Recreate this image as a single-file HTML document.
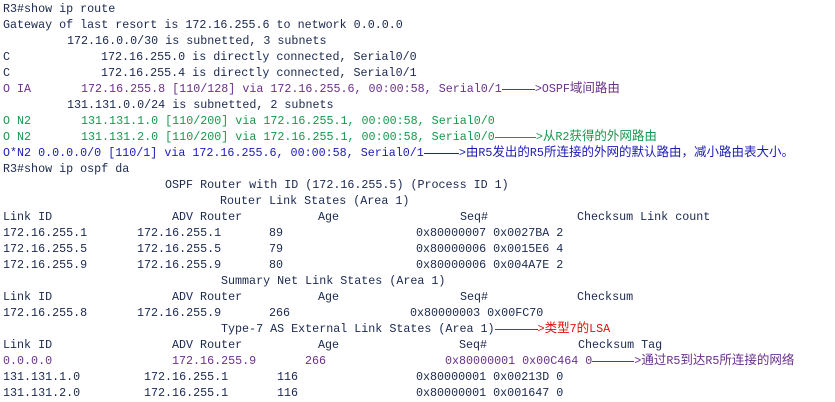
<!DOCTYPE html>
<html><head><meta charset="utf-8"><style>
body{margin:0;width:835px;height:402px;background:#fff;overflow:hidden;position:relative;font-family:"Liberation Mono","Noto Sans CJK SC",monospace;font-size:11.7px;color:#1a2850}
span{position:absolute;white-space:pre;line-height:16px;height:16px}
i{font-style:normal;display:inline-block;height:8px;border-bottom:1px solid currentColor;vertical-align:top;line-height:0}
em{font-style:normal;font-family:"Noto Sans CJK SC","Liberation Mono",sans-serif;font-size:12.5px;line-height:0}
.p{color:#6b2f8f}.g{color:#16994c}.b{color:#1b1bb8}.r{color:#e01010}
</style></head><body>
<span style="top:1px;left:3px">R3#show ip route</span>
<span style="top:17px;left:3px">Gateway of last resort is 172.16.255.6 to network 0.0.0.0</span>
<span style="top:33px;left:67px">172.16.0.0/30 is subnetted, 3 subnets</span>
<span style="top:49px;left:3px">C</span><span style="top:49px;left:101px">172.16.255.0 is directly connected, Serial0/0</span>
<span style="top:65px;left:3px">C</span><span style="top:65px;left:101px">172.16.255.4 is directly connected, Serial0/1</span>
<span class="p" style="top:81px;left:3px">O IA</span><span class="p" style="top:81px;left:81px">172.16.255.8 [110/128] via 172.16.255.6, 00:00:58, Serial0/1<i style="width:33px"></i>&gt;OSPF<em>域间路由</em></span>
<span style="top:97px;left:67px">131.131.0.0/24 is subnetted, 2 subnets</span>
<span class="g" style="top:113px;left:3px">O N2</span><span class="g" style="top:113px;left:81px">131.131.1.0 [110/200] via 172.16.255.1, 00:00:58, Serial0/0</span>
<span class="g" style="top:129px;left:3px">O N2</span><span class="g" style="top:129px;left:81px">131.131.2.0 [110/200] via 172.16.255.1, 00:00:58, Serial0/0<i style="width:41px"></i>&gt;<em>从</em>R2<em>获得的外网路由</em></span>
<span class="b" style="top:145px;left:3px">O*N2 0.0.0.0/0 [110/1] via 172.16.255.6, 00:00:58, Serial0/1<i style="width:35px"></i>&gt;<em>由</em>R5<em>发出的</em>R5<em>所连接的外网的默认路由，减小路由表大小。</em></span>
<span style="top:161px;left:3px">R3#show ip ospf da</span>
<span style="top:177px;left:165px">OSPF Router with ID (172.16.255.5) (Process ID 1)</span>
<span style="top:193px;left:220px">Router Link States (Area 1)</span>
<span style="top:209px;left:3px">Link ID</span><span style="top:209px;left:172px">ADV Router</span><span style="top:209px;left:318px">Age</span><span style="top:209px;left:460px">Seq#</span><span style="top:209px;left:577px">Checksum Link count</span>
<span style="top:225px;left:3px">172.16.255.1</span><span style="top:225px;left:137px">172.16.255.1</span><span style="top:225px;left:269px">89</span><span style="top:225px;left:416px">0x80000007 0x0027BA 2</span>
<span style="top:241px;left:3px">172.16.255.5</span><span style="top:241px;left:137px">172.16.255.5</span><span style="top:241px;left:269px">79</span><span style="top:241px;left:416px">0x80000006 0x0015E6 4</span>
<span style="top:257px;left:3px">172.16.255.9</span><span style="top:257px;left:137px">172.16.255.9</span><span style="top:257px;left:269px">80</span><span style="top:257px;left:416px">0x80000006 0x004A7E 2</span>
<span style="top:273px;left:221px">Summary Net Link States (Area 1)</span>
<span style="top:289px;left:3px">Link ID</span><span style="top:289px;left:172px">ADV Router</span><span style="top:289px;left:318px">Age</span><span style="top:289px;left:460px">Seq#</span><span style="top:289px;left:577px">Checksum</span>
<span style="top:305px;left:3px">172.16.255.8</span><span style="top:305px;left:137px">172.16.255.9</span><span style="top:305px;left:269px">266</span><span style="top:305px;left:410px">0x80000003 0x00FC70</span>
<span style="top:321px;left:221px">Type-7 AS External Link States (Area 1)<b class="r" style="font-weight:normal"><i style="width:43px"></i>&gt;<em>类型</em>7<em>的</em>LSA</b></span>
<span style="top:337px;left:3px">Link ID</span><span style="top:337px;left:172px">ADV Router</span><span style="top:337px;left:318px">Age</span><span style="top:337px;left:459px">Seq#</span><span style="top:337px;left:578px">Checksum Tag</span>
<span class="p" style="top:353px;left:3px">0.0.0.0</span><span class="p" style="top:353px;left:172px">172.16.255.9</span><span class="p" style="top:353px;left:305px">266</span><span class="p" style="top:353px;left:445px">0x80000001 0x00C464 0<i style="width:42px"></i>&gt;<em>通过</em>R5<em>到达</em>R5<em>所连接的网络</em></span>
<span style="top:369px;left:3px">131.131.1.0</span><span style="top:369px;left:144px">172.16.255.1</span><span style="top:369px;left:277px">116</span><span style="top:369px;left:416px">0x80000001 0x00213D 0</span>
<span style="top:385px;left:3px">131.131.2.0</span><span style="top:385px;left:144px">172.16.255.1</span><span style="top:385px;left:277px">116</span><span style="top:385px;left:416px">0x80000001 0x001647 0</span>
</body></html>
